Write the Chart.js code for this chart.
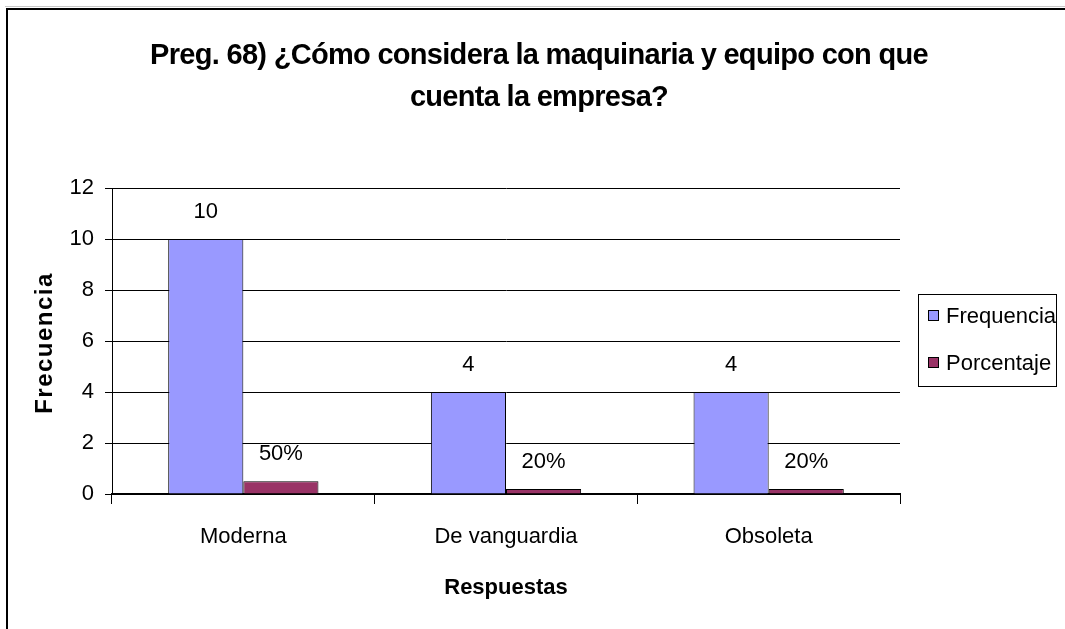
<!DOCTYPE html>
<html lang="es">
<head>
  <meta charset="UTF-8">
  <title>Preg. 68</title>
  <script src="https://cdn.jsdelivr.net/npm/chart.js"></script>
  <style>
    html, body { margin: 0; padding: 0; background: #fff; }
    #wrap { width: 1065px; height: 629px; }
  </style>
</head>
<body>
  <div id="wrap"><canvas id="grafico"></canvas></div>

  <script>
    const titulo = ['Preg. 68) ¿Cómo considera la maquinaria y equipo con que', 'cuenta la empresa?'];
    const categorias = ['Moderna', 'De vanguardia', 'Obsoleta'];
    const frecuencia = [10, 4, 4];
    const porcentaje = [0.5, 0.2, 0.2];
    const ticksY = { min: 0, max: 12, step: 2 };

    const fuente = "'Liberation Sans', Arial, sans-serif";

    // marco, titulos, etiquetas de valores y leyenda con borde
    const extras = {
      id: 'extras',
      afterDatasetsDraw(chart) {
        const ctx = chart.ctx;
        ctx.save();
        ctx.fillStyle = '#000';
        ctx.font = '22px ' + fuente;
        ctx.textAlign = 'center';
        ctx.textBaseline = 'middle';
        chart.data.datasets.forEach((ds, i) => {
          chart.getDatasetMeta(i).data.forEach((bar, j) => {
            const v = ds.data[j];
            const txt = i === 1 ? Math.round(v * 100) + '%' : String(v);
            ctx.fillText(txt, bar.x, bar.y - 27);
          });
        });
        ctx.restore();
      },
      afterDraw(chart) {
        const ctx = chart.ctx;
        ctx.save();

        // marco exterior
        ctx.strokeStyle = '#c8c8c8';
        ctx.lineWidth = 1;
        ctx.beginPath();
        ctx.moveTo(5, 6.5); ctx.lineTo(1065, 6.5);
        ctx.stroke();
        ctx.strokeStyle = '#000';
        ctx.lineWidth = 2;
        ctx.beginPath();
        ctx.moveTo(1065, 9); ctx.lineTo(7, 9); ctx.lineTo(7, 629);
        ctx.stroke();

        // titulo principal
        ctx.fillStyle = '#000';
        ctx.font = 'bold 29px ' + fuente;
        ctx.letterSpacing = '-0.7px';
        ctx.textAlign = 'center';
        ctx.textBaseline = 'alphabetic';
        titulo.forEach((linea, k) => ctx.fillText(linea, 539, 64 + k * 42));

        // titulo del eje Y
        ctx.font = 'bold 24px ' + fuente;
        ctx.letterSpacing = '1.5px';
        ctx.textBaseline = 'middle';
        ctx.translate(45, 343);
        ctx.rotate(-Math.PI / 2);
        ctx.fillText('Frecuencia', 0, 0);
        ctx.setTransform(1, 0, 0, 1, 0, 0);
        ctx.letterSpacing = '0px';

        // leyenda
        ctx.lineWidth = 1;
        ctx.strokeStyle = '#000';
        ctx.strokeRect(918.5, 294.5, 138, 92);
        ctx.font = '22px ' + fuente;
        ctx.textAlign = 'left';
        chart.data.datasets.forEach((ds, i) => {
          const y = 316 + i * 47;
          ctx.fillStyle = ds.backgroundColor;
          ctx.fillRect(928.5, y - 5.5, 10, 10);
          ctx.strokeRect(928.5, y - 5.5, 10, 10);
          ctx.fillStyle = '#000';
          ctx.fillText(ds.label, 946, y + 1);
        });
        ctx.restore();
      }
    };

    new Chart(document.getElementById('grafico'), {
      type: 'bar',
      data: {
        labels: categorias,
        datasets: [
          { label: 'Frequencia', data: frecuencia, backgroundColor: '#9999FF', borderColor: '#000', borderWidth: 1 },
          { label: 'Porcentaje', data: porcentaje, backgroundColor: '#993366', borderColor: '#000', borderWidth: 1 }
        ]
      },
      options: {
        responsive: true,
        maintainAspectRatio: false,
        animation: false,
        categoryPercentage: 0.572,
        barPercentage: 1,
        layout: { padding: { left: 0, right: 165, top: 188, bottom: 0 } },
        plugins: {
          legend: { display: false },
          tooltip: { enabled: false },
          title: { display: false }
        },
        scales: {
          x: {
            offset: true,
            afterFit(scale) { scale.height = 135; },
            grid: { offset: true, drawOnChartArea: false, drawTicks: true, tickLength: 10, color: '#000' },
            border: { color: '#000', width: 2 },
            ticks: { color: '#000', padding: 20, font: { family: fuente, size: 22 } },
            title: {
              display: true,
              text: 'Respuestas',
              color: '#000',
              font: { family: fuente, size: 22, weight: 'bold' },
              padding: { top: 0, bottom: 28 }
            }
          },
          y: {
            min: ticksY.min,
            max: ticksY.max,
            afterFit(scale) { scale.width = 112; },
            grid: { color: '#000', lineWidth: 1, tickLength: 7 },
            border: { color: '#000', width: 1 },
            ticks: { stepSize: ticksY.step, color: '#000', padding: 11, font: { family: fuente, size: 22 } }
          }
        }
      },
      plugins: [extras]
    });
  </script>
</body>
</html>
